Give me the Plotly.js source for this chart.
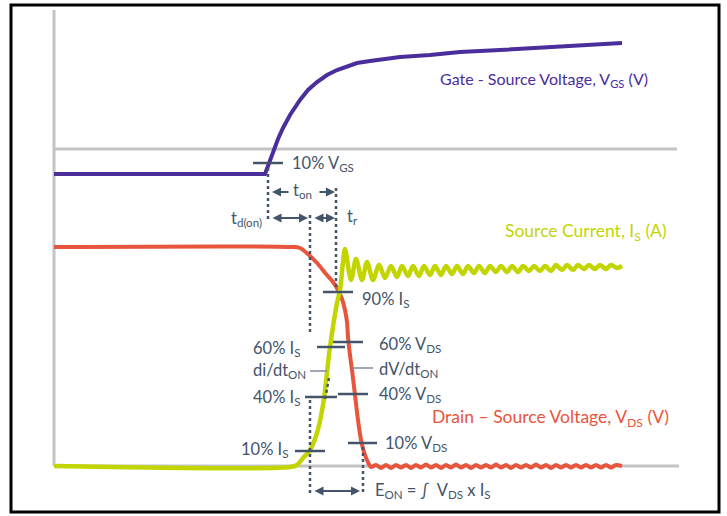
<!DOCTYPE html>
<html>
<head>
<meta charset="utf-8">
<script src="https://cdn.plot.ly/plotly-3.0.1.min.js"></script>
<style>html,body{margin:0;padding:0;background:#fff;}#chart{width:727px;height:516px;}</style>
</head>
<body>
<div id="chart"></div>
<script>
// Time axis (arbitrary units) and signal levels (arbitrary units)
const vgsTime = [0, 211, 214, 219, 224, 229, 236, 246, 254, 263, 273, 283, 293, 303, 316, 329, 346, 376, 406, 446, 486, 526, 568];
const vgsValue = [292, 292, 300, 314, 327, 338, 351, 366, 376, 384, 391, 396, 400, 403, 405, 407, 409, 411, 414, 416, 418, 421, 423];

const vdsTime = [0, 236, 246, 256, 264, 272, 279, 284, 288, 291, 293, 294, 296, 298, 301, 304, 307, 310, 313, 317,
  322, 327, 332, 337, 342, 347, 352, 357, 362, 367, 372, 377, 382, 387, 392, 397, 402, 407, 412, 417, 422, 427,
  432, 437, 442, 447, 452, 457, 462, 467, 472, 477, 482, 487, 492, 497, 502, 507, 512, 517, 522, 527, 532, 537,
  542, 547, 552, 557, 562, 568];
const vdsValue = [219, 219, 218, 210, 202, 192, 184, 176, 167, 156, 144, 129, 111, 96, 71, 46, 26, 14, 6, -1,
  1, -2, 1, -2, 1, -1.5, 1, -2, 1, -1.5, 1.5, -1.5, 1, -2, 1, -1.5, 1.5, -1.5, 1, -2, 1, -1.5,
  1, -1.5, 1.5, -1.5, 1, -2, 1, -1.5, 1, -1.5, 1.5, -1.5, 1, -2, 1, -1.5, 1, -1.5, 1, -1.5, 1, -1.5,
  1, -1.5, 1, -1.5, 1, 0];

const isTime = [0, 236, 243, 249, 256, 263, 269, 276, 283, 286, 289, 291,
  297, 302, 308, 313, 319, 325, 331, 337, 343, 348, 354, 359, 365, 370, 376, 381, 387, 392, 398, 403, 409, 414,
  420, 425, 431, 436, 442, 447, 453, 458, 464, 469, 475, 480, 486, 491, 497, 502, 508, 513, 519, 524, 530, 535,
  541, 546, 552, 557, 563, 568];
const isValue = [0, -1, 1, 8, 16, 33, 61, 119, 163, 176, 204, 217,
  186, 207, 186, 204, 186, 201, 188, 200, 189, 200, 190, 200, 190, 200, 191, 200, 191, 200, 192, 200, 192, 200,
  193, 200, 193, 200, 194, 200, 194, 200, 194, 200, 195, 200, 195, 200, 195, 201, 196, 201, 196, 201, 197, 201,
  197, 201, 197, 201, 198, 200];

const seriesNames = ['Gate - Source Voltage, V<sub>GS</sub> (V)', 'Source Current, I<sub>S</sub> (A)', 'Drain \u2013 Source Voltage, V<sub>DS</sub> (V)'];

const purple = '#4B2D9B', red = '#E8553D', green = '#C3D500', slate = '#44546A', gray = '#C4C4C4';
const FONT = 'Lato, "Open Sans", sans-serif';

const traces = [
  {x: vgsTime, y: vgsValue, mode: 'lines', line: {color: purple, width: 4}, hoverinfo: 'skip'},
  {x: vdsTime, y: vdsValue, mode: 'lines', line: {color: red, width: 4, shape: 'spline', smoothing: 0.8}, hoverinfo: 'skip'},
  {x: isTime, y: isValue, mode: 'lines', line: {color: green, width: 4.5, shape: 'spline', smoothing: 0.9}, hoverinfo: 'skip'}
];

function hline(x0, x1, y, color, width) {
  return {type: 'line', xref: 'x', yref: 'y', x0: x0, x1: x1, y0: y, y1: y, line: {color: color, width: width}};
}
function dashed(x, y0, y1) {
  return {type: 'line', xref: 'x', yref: 'y', x0: x, x1: x, y0: y0, y1: y1, line: {color: slate, width: 2.5, dash: 'dot'}};
}

const shapes = [
  // frame
  {type: 'rect', xref: 'paper', yref: 'paper', x0: 11/727, x1: 719/727, y0: 1 - 512/516, y1: 1 - 5/516, line: {color: '#000', width: 3}},
  // reference axes
  {type: 'line', xref: 'x', yref: 'y', x0: 0, x1: 0, y0: 0, y1: 456, line: {color: gray, width: 3}, layer: 'below'},
  Object.assign(hline(0, 623, 317, gray, 3), {layer: 'below'}),
  Object.assign(hline(0, 625, 0, gray, 3), {layer: 'below'}),
  // percent markers
  hline(199, 229, 303, slate, 2.5),
  hline(269, 299, 174, slate, 2.5),
  hline(263, 291, 119, slate, 2.5),
  hline(279, 309, 124, slate, 2.5),
  hline(251, 283, 69, slate, 2.5),
  hline(284, 314, 72, slate, 2.5),
  hline(241, 271, 15, slate, 2.5),
  hline(294, 323, 23, slate, 2.5),
  // slope leaders
  hline(256, 273, 95, '#7F8A99', 1.5),
  hline(298, 319, 98, '#7F8A99', 1.5),
  // dashed verticals
  dashed(214, 298, 244),
  dashed(256, 251, 133),
  dashed(282, 278, 176),
  dashed(256, 66, -29),
  dashed(309, 19, -29),
  {type: 'line', xref: 'x', yref: 'y', x0: 275, x1: 271, y0: 88, y1: 66, line: {color: slate, width: 2.5, dash: 'dot'}}
];

function label(text, x, y, anchor, color, size) {
  return {x: x, y: y, xref: 'x', yref: 'y', text: text, showarrow: false, xanchor: anchor, yanchor: 'middle',
    font: {family: FONT, size: size || 16.5, color: color || slate}};
}
function arrow(xHead, xTail, y, both) {
  return {x: xHead, y: y, ax: xTail, ay: y, xref: 'x', yref: 'y', axref: 'x', ayref: 'y', text: '', showarrow: true,
    arrowhead: 2, startarrowhead: 2, arrowside: both ? 'end+start' : 'end', arrowsize: 0.9, arrowwidth: 2, arrowcolor: slate,
    standoff: 0, startstandoff: 0};
}

const annotations = [
  label(seriesNames[0], 384, 387, 'left', purple, 16),
  label(seriesNames[1], 449, 234, 'left', green, 17.5),
  label(seriesNames[2], 376, 48, 'left', red, 17.5),
  label('10% V<sub>GS</sub>', 236, 303, 'left'),
  label('t<sub>on</sub>', 248, 276, 'center'),
  label('t<sub>d(on)</sub>', 210, 248, 'right'),
  label('t<sub>r</sub>', 291, 250, 'left'),
  label('90% I<sub>S</sub>', 306, 167, 'left'),
  label('60% I<sub>S</sub>', 248, 118, 'right'),
  label('60% V<sub>DS</sub>', 323, 122, 'left'),
  label('di/dt<sub>ON</sub>', 254, 96, 'right'),
  label('dV/dt<sub>ON</sub>', 323, 97, 'left'),
  label('40% I<sub>S</sub>', 248, 69, 'right'),
  label('40% V<sub>DS</sub>', 323, 72, 'left'),
  label('10% I<sub>S</sub>', 236, 17, 'right'),
  label('10% V<sub>DS</sub>', 329, 23, 'left'),
  label('E<sub>ON</sub> = \u222B  V<sub>DS</sub> x I<sub>S</sub>', 319, -24, 'left'),
  arrow(218, 236, 274, false),
  arrow(281, 264, 274, false),
  arrow(254, 217, 248, true),
  arrow(281, 259, 248, true),
  arrow(306, 259, -25, true)
];

const layout = {
  width: 727, height: 516,
  margin: {l: 0, r: 0, t: 0, b: 0},
  paper_bgcolor: '#fff', plot_bgcolor: '#fff',
  showlegend: false,
  xaxis: {range: [-54, 673], visible: false, fixedrange: true},
  yaxis: {range: [-50, 466], visible: false, fixedrange: true},
  shapes: shapes,
  annotations: annotations,
  font: {family: FONT}
};

Plotly.newPlot('chart', traces, layout, {displayModeBar: false, staticPlot: true});
</script>
</body>
</html>
